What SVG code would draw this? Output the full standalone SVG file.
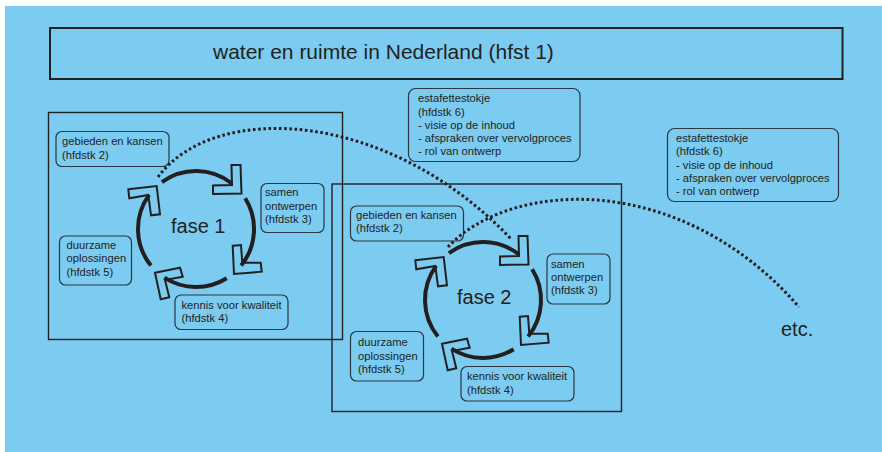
<svg xmlns="http://www.w3.org/2000/svg" xmlns:xlink="http://www.w3.org/1999/xlink" width="882" height="452" viewBox="0 0 882 452">
<style>
text{font-family:"Liberation Sans",Arial,sans-serif;fill:#231f20}
.s{font-size:11.2px}
.fase{font-size:20px}
.box{fill:none;stroke:#2b3640;stroke-width:1.2}
.frame{fill:none;stroke:#231f20;stroke-width:1.4}
.arc{fill:none;stroke:#231f20;stroke-width:4}
.chev{fill:none;stroke:#231f20;stroke-width:2;stroke-linejoin:miter}
.dot{fill:none;stroke:#231f20;stroke-width:3;stroke-dasharray:2.6 2.6}
</style>
<defs>
<g id="cycle">
<path class="arc" d="M161.9,182.1 A58,58 0 0 1 231.7,183.3"/>
<path class="arc" d="M245.2,198.3 A58,58 0 0 1 241.1,265.5"/>
<path class="arc" d="M226.7,278.2 A58,58 0 0 1 164.4,277.6"/>
<path class="arc" d="M150.9,265.5 A58,58 0 0 1 149.1,194.9"/>
<polygon class="chev" points="231.5,165 240.5,165 241.5,193.5 213,194 213,185.5 232,185"/>
<polygon class="chev" points="232.7,245.7 241,245 242.3,262.7 260.7,262.7 261.7,271.7 234,274"/>
<polygon class="chev" points="155,272.7 180,267.7 182.7,276.7 165,280 169.3,297.3 160.7,299.3"/>
<polygon class="chev" points="128.3,189.3 156.7,186 160,214.3 151,215.3 148.3,195 129.3,198.3"/>
</g>
</defs>
<rect x="5" y="6" width="877" height="446" fill="#7ccbf0"/>

<g id="title">
<rect x="50" y="28" width="792.5" height="51" fill="none" stroke="#231f20" stroke-width="2"/>
<text x="213" y="59" font-size="21">water en ruimte in Nederland (hfst 1)</text>
</g>

<g id="fase1">
<rect class="frame" x="48.5" y="112.5" width="294" height="227"/>
<use xlink:href="#cycle"/>
<text class="fase" x="171" y="232.7">fase 1</text>
</g>

<g id="fase2">
<rect class="frame" x="332" y="184" width="289.5" height="227.5"/>
<use xlink:href="#cycle" transform="translate(287,71)"/>
<text class="fase" x="457" y="304">fase 2</text>
</g>

<g id="f1-gebieden">
<rect class="box" x="56" y="131.5" width="113" height="35" rx="6"/>
<text class="s" x="62" y="145">gebieden en kansen</text>
<text class="s" x="62" y="158.5">(hfdstk 2)</text>
</g>
<g id="f1-samen">
<rect class="box" x="261" y="183.5" width="63" height="49" rx="6"/>
<text class="s" x="265" y="196">samen</text>
<text class="s" x="265" y="209.5">ontwerpen</text>
<text class="s" x="265" y="223">(hfdstk 3)</text>
</g>
<g id="f1-duurzame">
<rect class="box" x="59.5" y="236" width="72" height="49" rx="6"/>
<text class="s" x="66.5" y="248.5">duurzame</text>
<text class="s" x="66.5" y="262">oplossingen</text>
<text class="s" x="66.5" y="275.5">(hfdstk 5)</text>
</g>
<g id="f1-kennis">
<rect class="box" x="175" y="295" width="113" height="34.5" rx="6"/>
<text class="s" x="181.5" y="308.5">kennis voor kwaliteit</text>
<text class="s" x="181.5" y="322">(hfdstk 4)</text>
</g>

<g id="f2-gebieden">
<rect class="box" x="350.5" y="206" width="113" height="35" rx="6"/>
<text class="s" x="356" y="218.5">gebieden en kansen</text>
<text class="s" x="356" y="232">(hfdstk 2)</text>
</g>
<g id="f2-samen">
<rect class="box" x="547" y="254" width="63" height="50" rx="6"/>
<text class="s" x="551" y="267.5">samen</text>
<text class="s" x="551" y="281">ontwerpen</text>
<text class="s" x="551" y="294">(hfdstk 3)</text>
</g>
<g id="f2-duurzame">
<rect class="box" x="350.5" y="331.5" width="73" height="49.5" rx="6"/>
<text class="s" x="358" y="346">duurzame</text>
<text class="s" x="358" y="359.5">oplossingen</text>
<text class="s" x="358" y="373">(hfdstk 5)</text>
</g>
<g id="f2-kennis">
<rect class="box" x="461" y="366.5" width="113" height="34.5" rx="6"/>
<text class="s" x="467" y="380">kennis voor kwaliteit</text>
<text class="s" x="467" y="393.5">(hfdstk 4)</text>
</g>

<g id="estafette1">
<rect class="box" x="408.5" y="88.5" width="171.5" height="73" rx="7"/>
<text class="s" x="418" y="102">estafettestokje</text>
<text class="s" x="418" y="115.5">(hfdstk 6)</text>
<text class="s" x="418" y="128.5">- visie op de inhoud</text>
<text class="s" x="418" y="141.5">- afspraken over vervolgproces</text>
<text class="s" x="418" y="155">- rol van ontwerp</text>
</g>
<g id="estafette2">
<rect class="box" x="667.5" y="128.5" width="171" height="73" rx="7"/>
<text class="s" x="676" y="141.5">estafettestokje</text>
<text class="s" x="676" y="155">(hfdstk 6)</text>
<text class="s" x="676" y="168.5">- visie op de inhoud</text>
<text class="s" x="676" y="182">- afspraken over vervolgproces</text>
<text class="s" x="676" y="195">- rol van ontwerp</text>
</g>

<g id="etc">
<text x="781" y="335.5" font-size="20">etc.</text>
</g>

<g id="connectors">
<path class="dot" d="M158,177 C215,100 390,110 512,240"/>
<path class="dot" d="M448,247 C510,180 680,170 799,307"/>
</g>
</svg>
